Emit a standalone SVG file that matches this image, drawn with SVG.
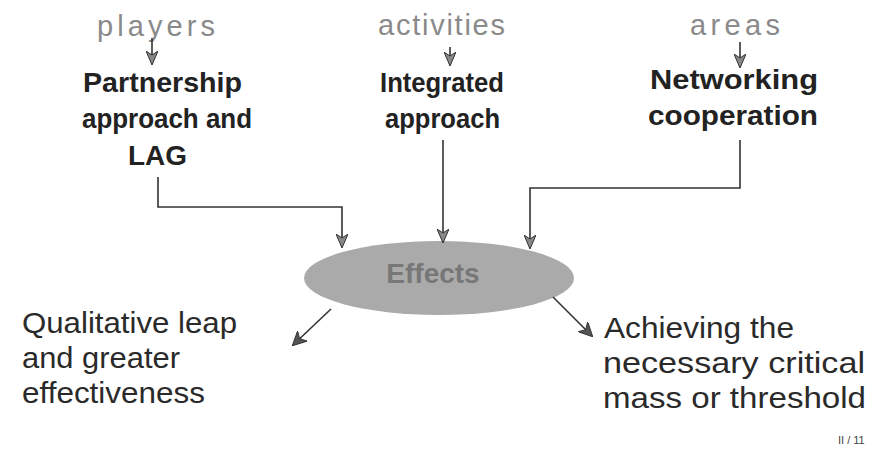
<svg xmlns="http://www.w3.org/2000/svg" width="872" height="451" viewBox="0 0 872 451">
<defs>
<style>
.lbl{font-family:"Liberation Sans",Arial,sans-serif;font-size:29px;fill:#8a8a8a}
.bold{font-family:"Liberation Sans",Arial,sans-serif;font-size:28px;font-weight:bold;fill:#222}
.out{font-family:"Liberation Sans",Arial,sans-serif;font-size:30px;fill:#2a2a2a}
.eff{font-family:"Liberation Sans",Arial,sans-serif;font-size:28px;font-weight:bold;fill:#777}
.con{fill:none;stroke:#333;stroke-width:1.6}
.pg{font-family:"Liberation Sans",Arial,sans-serif;font-size:11px;fill:#444}
</style>
<marker id="ah" viewBox="0 0 14 12" refX="13" refY="6" markerWidth="14" markerHeight="12" markerUnits="userSpaceOnUse" orient="auto">
<path d="M0,0 L4,6 L0,12 L14,6 Z" fill="#888" stroke="#333" stroke-width="1"/>
</marker>
<marker id="ah2" viewBox="0 0 14 14" refX="13" refY="7" markerWidth="14" markerHeight="14" markerUnits="userSpaceOnUse" orient="auto">
<path d="M0,0 L14,7 L0,14 L4,7 Z" fill="#555" stroke="#333" stroke-width="1"/>
</marker>
</defs>
<rect width="872" height="451" fill="#fff"/>
<g id="players"><text class="lbl" x="97" y="36" textLength="118">players</text></g>
<g id="activities"><text class="lbl" x="378" y="35" textLength="127">activities</text></g>
<g id="areas"><text class="lbl" x="690" y="35" textLength="90">areas</text></g>
<g id="partnership">
<text class="bold" x="83" y="92" textLength="159" lengthAdjust="spacingAndGlyphs">Partnership</text>
<text class="bold" x="82" y="128" textLength="170" lengthAdjust="spacingAndGlyphs">approach and</text>
<text class="bold" x="128" y="165" textLength="59" lengthAdjust="spacingAndGlyphs">LAG</text>
</g>
<g id="integrated">
<text class="bold" x="380" y="92" textLength="124" lengthAdjust="spacingAndGlyphs">Integrated</text>
<text class="bold" x="385" y="128" textLength="115" lengthAdjust="spacingAndGlyphs">approach</text>
</g>
<g id="networking">
<text class="bold" x="650" y="89" textLength="168" lengthAdjust="spacingAndGlyphs">Networking</text>
<text class="bold" x="648" y="125" textLength="170" lengthAdjust="spacingAndGlyphs">cooperation</text>
</g>
<g id="effects">
<ellipse cx="439" cy="278" rx="135" ry="37" fill="#aaa"/>
<text class="eff" x="433" y="283" text-anchor="middle">Effects</text>
</g>
<g id="qualitative">
<text class="out" x="22" y="333" textLength="215" lengthAdjust="spacingAndGlyphs">Qualitative leap</text>
<text class="out" x="22" y="368" textLength="158" lengthAdjust="spacingAndGlyphs">and greater</text>
<text class="out" x="22" y="403" textLength="183" lengthAdjust="spacingAndGlyphs">effectiveness</text>
</g>
<g id="achieving">
<text class="out" x="604" y="338" textLength="190" lengthAdjust="spacingAndGlyphs">Achieving the</text>
<text class="out" x="603" y="373" textLength="262" lengthAdjust="spacingAndGlyphs">necessary critical</text>
<text class="out" x="603" y="408" textLength="263" lengthAdjust="spacingAndGlyphs">mass or threshold</text>
</g>
<g id="connectors">
<path class="con" d="M152,38 V64" marker-end="url(#ah)"/>
<path class="con" d="M450,47 V65" marker-end="url(#ah)"/>
<path class="con" d="M740,42 V67" marker-end="url(#ah)"/>
<path class="con" d="M158,177 V207 H342 V247" marker-end="url(#ah)"/>
<path class="con" d="M443,140 V242" marker-end="url(#ah)"/>
<path class="con" d="M740,140 V188 H530 V248" marker-end="url(#ah)"/>
<path class="con" d="M331,309 L293,345" marker-end="url(#ah2)"/>
<path class="con" d="M553,297 L592,336" marker-end="url(#ah2)"/>
</g>
<text class="pg" x="838" y="444">II / 11</text>
</svg>
